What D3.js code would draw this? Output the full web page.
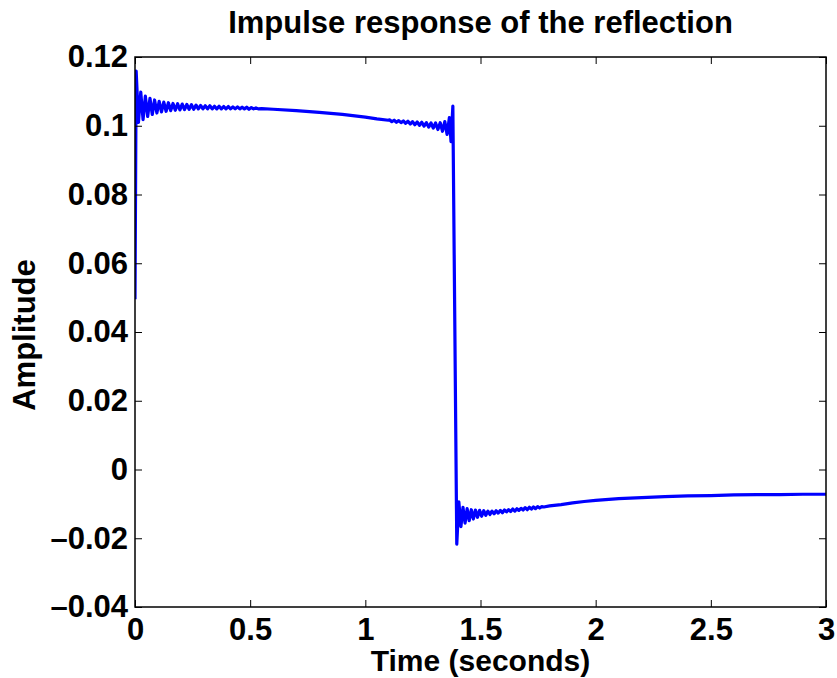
<!DOCTYPE html>
<html>
<head>
<meta charset="utf-8">
<script src="https://cdn.jsdelivr.net/npm/d3@7"></script>
<style>
  html, body { margin: 0; padding: 0; background: #fff; }
  svg { display: block; }
  text { font-family: "Liberation Sans", Arial, Helvetica, sans-serif; font-weight: bold; fill: #000; }
</style>
</head>
<body>
<svg id="chart" width="837" height="678"></svg>
<script>
// ---- data ----
const chartTitle = "Impulse response of the reflection";
const xLabel = "Time (seconds)";
const yLabel = "Amplitude";

const xTicks = [0, 0.5, 1, 1.5, 2, 2.5, 3];
const xTickLabels = ["0", "0.5", "1", "1.5", "2", "2.5", "3"];
const yTicks = [-0.04, -0.02, 0, 0.02, 0.04, 0.06, 0.08, 0.1, 0.12];
const yTickLabels = ["\u20130.04", "\u20130.02", "0", "0.02", "0.04", "0.06", "0.08", "0.1", "0.12"];

const time = [
  0.000, 0.005, 0.015, 0.025, 0.035, 0.045, 0.055, 0.065, 0.075, 0.085, 0.095,
  0.105, 0.115, 0.125, 0.135, 0.145, 0.155, 0.165, 0.175, 0.185, 0.195,
  0.205, 0.215, 0.225, 0.235, 0.245, 0.255, 0.265, 0.275, 0.285, 0.295,
  0.305, 0.315, 0.325, 0.335, 0.345, 0.355, 0.365, 0.375, 0.385, 0.395,
  0.405, 0.415, 0.425, 0.435, 0.445, 0.455, 0.465, 0.475, 0.485, 0.495,
  0.505, 0.515, 0.525, 0.535, 0.55,
  0.60, 0.70, 0.80, 0.90, 1.00, 1.05, 1.10,
  1.105, 1.115, 1.125, 1.135, 1.145, 1.155, 1.165, 1.175, 1.185, 1.195,
  1.205, 1.215, 1.225, 1.235, 1.245, 1.255, 1.265, 1.275, 1.285, 1.295,
  1.305, 1.315, 1.325, 1.335, 1.345, 1.355, 1.365, 1.372, 1.380, 1.397,
  1.406, 1.415, 1.424, 1.433, 1.442, 1.451, 1.460, 1.469, 1.478, 1.487,
  1.496, 1.505, 1.514, 1.523, 1.532, 1.541, 1.550, 1.559, 1.568, 1.577,
  1.586, 1.595, 1.604, 1.613, 1.622, 1.631, 1.640, 1.649, 1.658, 1.667,
  1.676, 1.685, 1.694, 1.703, 1.712, 1.721, 1.730, 1.739, 1.748, 1.757,
  1.766, 1.775,
  1.80, 1.85, 1.90, 1.95, 2.00, 2.10, 2.20, 2.30, 2.40, 2.50, 2.60, 2.70, 2.80, 2.90, 3.00
];
const amplitude = [
  0.0495, 0.1159, 0.1010, 0.1098, 0.1018, 0.1086, 0.1027, 0.1080, 0.1033, 0.1075, 0.1037,
  0.1071, 0.1040, 0.1069, 0.1042, 0.1067, 0.1044, 0.1065, 0.1045, 0.1064, 0.1046,
  0.1063, 0.1047, 0.1062, 0.1048, 0.1061, 0.1048, 0.1060, 0.1049, 0.1059, 0.1049,
  0.1058, 0.1049, 0.1058, 0.1049, 0.1057, 0.1049, 0.1057, 0.1049, 0.1056, 0.1049,
  0.1056, 0.1049, 0.1055, 0.1049, 0.1055, 0.1049, 0.1054, 0.1049, 0.1054, 0.1048,
  0.1053, 0.1049, 0.1052, 0.1049, 0.1050,
  0.1048, 0.1044, 0.1039, 0.1033, 0.1025, 0.1020, 0.1016,
  0.1017, 0.1012, 0.1016, 0.1010, 0.1015, 0.1009, 0.1014, 0.1007, 0.1013, 0.1005,
  0.1012, 0.1003, 0.1011, 0.1001, 0.1010, 0.0999, 0.1009, 0.0996, 0.1008, 0.0993,
  0.1008, 0.0989, 0.1009, 0.0984, 0.1012, 0.0975, 0.1024, 0.0954, 0.1057, -0.0217,
  -0.0094, -0.0166, -0.0110, -0.0156, -0.0114, -0.0149, -0.0117, -0.0144, -0.0118, -0.0139,
  -0.0119, -0.0136, -0.0120, -0.0133, -0.0121, -0.0131, -0.0121, -0.0129, -0.0120, -0.0127,
  -0.0119, -0.0126, -0.0118, -0.0123, -0.0117, -0.0122, -0.0115, -0.0121, -0.0114, -0.0119,
  -0.0113, -0.0118, -0.0111, -0.0117, -0.0110, -0.0115, -0.0109, -0.0114, -0.0108, -0.0112,
  -0.0108, -0.0109,
  -0.0106, -0.0102, -0.0097, -0.0093, -0.0090, -0.0085, -0.0082, -0.0079, -0.0077, -0.0076, -0.0074, -0.0073, -0.0073, -0.0072, -0.0072
];

// ---- layout ----
const svg = d3.select("#chart");
const plot = { left: 135, right: 826, top: 57, bottom: 607 };

const x = d3.scaleLinear().domain([0, 3]).range([plot.left, plot.right]);
const y = d3.scaleLinear().domain([-0.04, 0.12]).range([plot.bottom, plot.top]);

const fontSize = 31;
const tickLen = 7;

// clip
svg.append("defs").append("clipPath").attr("id", "clip")
  .append("rect")
  .attr("x", plot.left).attr("y", plot.top)
  .attr("width", plot.right - plot.left).attr("height", plot.bottom - plot.top);

// data line
const points = time.map((t, i) => [t, amplitude[i]]);
svg.append("path")
  .datum(points)
  .attr("clip-path", "url(#clip)")
  .attr("fill", "none")
  .attr("stroke", "#0000ff")
  .attr("stroke-width", 3.2)
  .attr("stroke-linejoin", "round")
  .attr("d", d3.line().x(d => x(d[0])).y(d => y(d[1])));

// axes (MATLAB-style box with inward ticks)
const fmtX = d => xTickLabels[xTicks.indexOf(d)];
const fmtY = d => yTickLabels[yTicks.indexOf(d)];

function styleAxis(g) {
  g.select(".domain").remove();
  g.selectAll(".tick line").attr("stroke", "#000").attr("stroke-width", 1);
  g.selectAll(".tick text")
    .style("font-family", '"Liberation Sans", Arial, sans-serif')
    .style("font-weight", "bold")
    .style("font-size", fontSize + "px")
    .attr("fill", "#000");
}

svg.append("g")
  .attr("transform", `translate(0,${plot.bottom})`)
  .call(d3.axisBottom(x).tickValues(xTicks).tickFormat(fmtX).tickSizeInner(-tickLen).tickSizeOuter(0).tickPadding(11))
  .call(styleAxis);

svg.append("g")
  .attr("transform", `translate(0,${plot.top})`)
  .call(d3.axisTop(x).tickValues(xTicks).tickFormat("").tickSizeInner(-tickLen).tickSizeOuter(0))
  .call(styleAxis);

svg.append("g")
  .attr("transform", `translate(${plot.left},0)`)
  .call(d3.axisLeft(y).tickValues(yTicks).tickFormat(fmtY).tickSizeInner(-tickLen).tickSizeOuter(0).tickPadding(7))
  .call(styleAxis);

svg.append("g")
  .attr("transform", `translate(${plot.right},0)`)
  .call(d3.axisRight(y).tickValues(yTicks).tickFormat("").tickSizeInner(-tickLen).tickSizeOuter(0))
  .call(styleAxis);

// box
svg.append("rect")
  .attr("x", plot.left).attr("y", plot.top)
  .attr("width", plot.right - plot.left).attr("height", plot.bottom - plot.top)
  .attr("fill", "none").attr("stroke", "#000").attr("stroke-width", 1.5);

// title and labels
svg.append("text")
  .attr("x", (plot.left + plot.right) / 2).attr("y", 33)
  .attr("text-anchor", "middle")
  .style("font-size", fontSize + "px")
  .text(chartTitle);

svg.append("text")
  .attr("x", (plot.left + plot.right) / 2).attr("y", 671)
  .attr("text-anchor", "middle")
  .style("font-size", "30px")
  .text(xLabel);

svg.append("text")
  .attr("transform", `translate(35,${(plot.top + plot.bottom) / 2 + 3}) rotate(-90)`)
  .attr("text-anchor", "middle")
  .style("font-size", fontSize + "px")
  .text(yLabel);
</script>
</body>
</html>
